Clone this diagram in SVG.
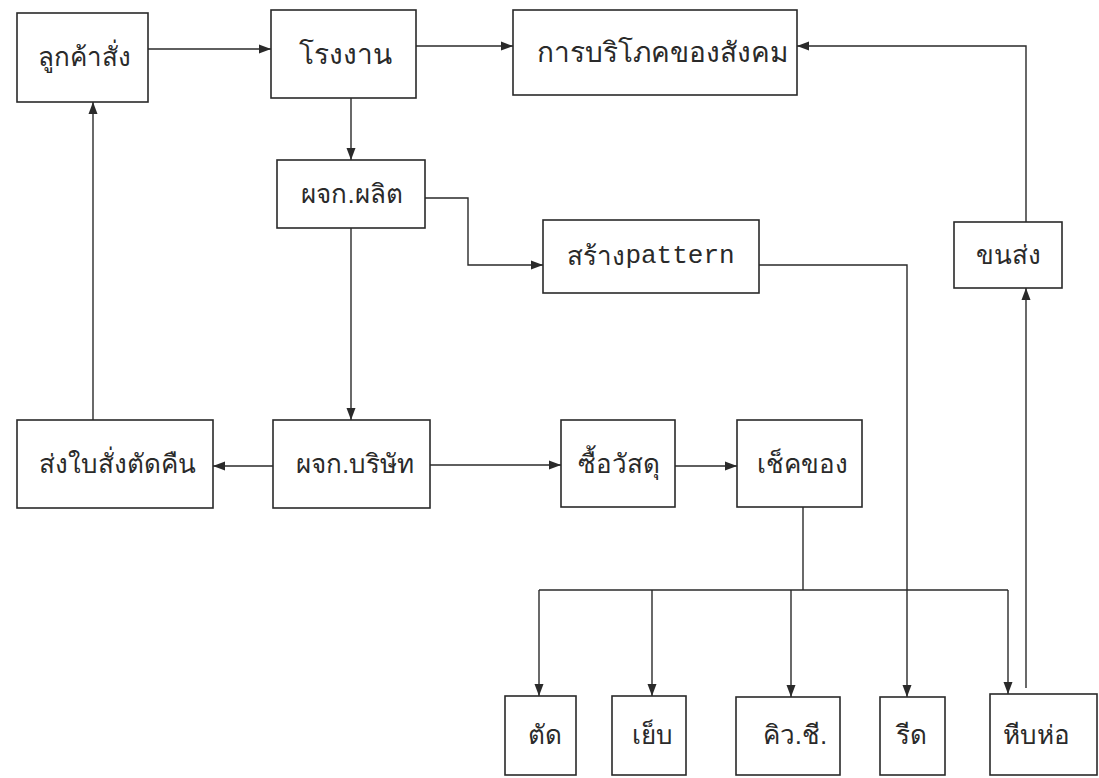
<svg xmlns="http://www.w3.org/2000/svg" width="1099" height="778" viewBox="0 0 1099 778">
<style>
.bx rect{fill:none;stroke:#2a2a2a;stroke-width:1.6}
.bx text{font-family:"Liberation Sans",sans-serif;font-size:26px;fill:#2a2a2a;text-anchor:middle;dominant-baseline:central}
.mono{font-family:"Liberation Mono",monospace}
.c path{fill:none;stroke:#2a2a2a;stroke-width:1.4}
</style>
<defs>
<marker id="a" viewBox="0 0 12 10" refX="12" refY="5" markerWidth="12" markerHeight="10" markerUnits="userSpaceOnUse" orient="auto"><path d="M0,0.5 L12,5 L0,9.5 z" fill="#2a2a2a"/></marker>
</defs>
<rect width="1099" height="778" fill="#fff"/>
<g id="n1" class="bx"><rect x="17" y="13" width="131" height="89"/><text x="84" y="57">ลูกค้าสั่ง</text></g>
<g id="n2" class="bx"><rect x="271" y="10" width="145" height="88"/><text x="345" y="54" style="font-size:28px">โรงงาน</text></g>
<g id="n3" class="bx"><rect x="513" y="10" width="284" height="85"/><text x="662" y="52" style="font-size:28px">การบริโภคของสังคม</text></g>
<g id="n4" class="bx"><rect x="277" y="160" width="148" height="68"/><text x="352" y="194">ผจก.ผลิต</text></g>
<g id="n5" class="bx"><rect x="543" y="220" width="216" height="73"/><text x="651" y="256">สร้าง<tspan class="mono">pattern</tspan></text></g>
<g id="n6" class="bx"><rect x="954" y="222" width="108" height="66"/><text x="1008" y="255">ขนส่ง</text></g>
<g id="n7" class="bx"><rect x="17" y="420" width="196" height="88"/><text x="117" y="464">ส่งใบสั่งตัดคืน</text></g>
<g id="n8" class="bx"><rect x="273" y="420" width="157" height="88"/><text x="355" y="464">ผจก.บริษัท</text></g>
<g id="n9" class="bx"><rect x="561" y="420" width="114" height="87"/><text x="619" y="464">ซื้อวัสดุ</text></g>
<g id="n10" class="bx"><rect x="737" y="420" width="125" height="87"/><text x="802" y="464">เช็คของ</text></g>
<g id="n11" class="bx"><rect x="505" y="696" width="71" height="79"/><text x="545" y="735">ตัด</text></g>
<g id="n12" class="bx"><rect x="612" y="696" width="74" height="79"/><text x="652" y="735">เย็บ</text></g>
<g id="n13" class="bx"><rect x="736" y="697" width="104" height="78"/><text x="795" y="735">คิว.ชี.</text></g>
<g id="n14" class="bx"><rect x="880" y="697" width="65" height="78"/><text x="911" y="735">รีด</text></g>
<g id="n15" class="bx"><rect x="990" y="694" width="107" height="81"/><text x="1036" y="735">หีบห่อ</text></g>
<g id="connectors" class="c">
<path d="M148,49 H271" marker-end="url(#a)"/>
<path d="M416,46 H513" marker-end="url(#a)"/>
<path d="M1026,222 V46 H797" marker-end="url(#a)"/>
<path d="M351,98 V160" marker-end="url(#a)"/>
<path d="M425,198 H468 V265 H543" marker-end="url(#a)"/>
<path d="M759,265 H907 V697" marker-end="url(#a)"/>
<path d="M351,228 V420" marker-end="url(#a)"/>
<path d="M273,466 H213" marker-end="url(#a)"/>
<path d="M93,420 V102" marker-end="url(#a)"/>
<path d="M430,465 H561" marker-end="url(#a)"/>
<path d="M675,466 H737" marker-end="url(#a)"/>
<path d="M803,507 V590"/>
<path d="M539,590 H1008"/>
<path d="M539,590 V696" marker-end="url(#a)"/>
<path d="M652,590 V696" marker-end="url(#a)"/>
<path d="M791,590 V697" marker-end="url(#a)"/>
<path d="M1008,590 V694" marker-end="url(#a)"/>
<path d="M1026,688 V288" marker-end="url(#a)"/>
</g>
</svg>
